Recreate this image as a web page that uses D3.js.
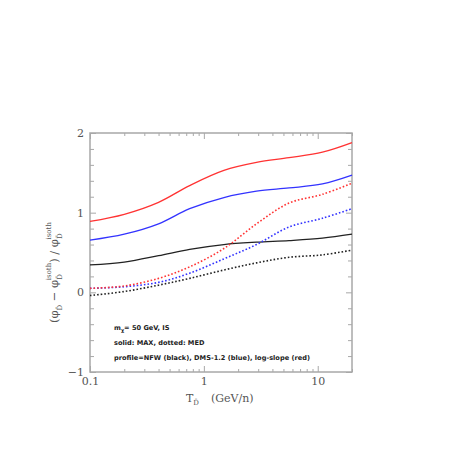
<!DOCTYPE html>
<html>
<head>
<meta charset="utf-8">
<script src="https://cdn.jsdelivr.net/npm/d3@7"></script>
<style>
  body { margin: 0; background: #fff; }
  svg { display: block; }
</style>
</head>
<body>
<script>
// kinetic energy grid (GeV/n)
var energies = [0.1, 0.2, 0.4, 0.75, 1.5, 2.9, 5.6, 11, 20];

// MAX propagation (solid)
var nfwMax = [0.345, 0.38, 0.46, 0.54, 0.60, 0.63, 0.65, 0.68, 0.73];
var dmsMax = [0.655, 0.73, 0.86, 1.05, 1.19, 1.27, 1.31, 1.36, 1.47];
var logMax = [0.89, 0.98, 1.13, 1.34, 1.53, 1.63, 1.69, 1.76, 1.88];

// MED propagation (dotted)
var nfwMed = [-0.04, 0.01, 0.09, 0.175, 0.28, 0.37, 0.44, 0.47, 0.53];
var dmsMed = [0.05, 0.07, 0.125, 0.24, 0.42, 0.60, 0.82, 0.93, 1.05];
var logMed = [0.05, 0.08, 0.175, 0.32, 0.55, 0.86, 1.12, 1.23, 1.37];

var xMajor = [0.1, 1, 10];
var xMajorLabels = ["0.1", "1", "10"];
var yMajor = [-1, 0, 1, 2];
var yMajorLabels = ["\u22121", "0", "1", "2"];

var legendLines = [
  ["m", "\u03c7", "= 50 GeV, IS"],
  ["solid: MAX, dotted: MED"],
  ["profile=NFW (black), DMS-1.2 (blue), log-slope (red)"]
];

var W = 457, H = 457;
var margin = {top: 133, right: 105, bottom: 85, left: 90};

var x = d3.scaleLog().domain([0.1, 20]).range([margin.left, W - margin.right]);
var y = d3.scaleLinear().domain([-1, 2]).range([H - margin.bottom, margin.top]);

var svg = d3.select("body").append("svg")
    .attr("width", W)
    .attr("height", H);

var frameCol = "#a8a8a8",
    textCol = "#555";

var xMinor = x.ticks().filter(function(d) { return xMajor.indexOf(d) < 0; });
var yMinor = d3.range(-1, 2.001, 0.2).map(function(d) { return Math.round(d * 10) / 10; })
    .filter(function(d) { return yMajor.indexOf(d) < 0; });

function styleAxis(g) {
  g.select(".domain").remove();
  g.selectAll(".tick line").attr("stroke", frameCol).attr("stroke-width", 1);
  g.selectAll(".tick text")
    .attr("fill", textCol)
    .style("font-family", "'DejaVu Serif', serif")
    .style("font-size", "11px");
}

var y0 = y.range()[0], y1 = y.range()[1];
var x0 = x.range()[0], x1 = x.range()[1];

// bottom
svg.append("g").attr("transform", "translate(0," + y0 + ")")
  .call(d3.axisBottom(x).tickValues(xMajor).tickSize(-6).tickPadding(5)
    .tickFormat(function(d, i) { return xMajorLabels[i]; }))
  .call(styleAxis);
svg.append("g").attr("transform", "translate(0," + y0 + ")")
  .call(d3.axisBottom(x).tickValues(xMinor).tickSize(-3).tickFormat(""))
  .call(styleAxis);
// top
svg.append("g").attr("transform", "translate(0," + y1 + ")")
  .call(d3.axisTop(x).tickValues(xMajor).tickSize(-6).tickFormat(""))
  .call(styleAxis);
svg.append("g").attr("transform", "translate(0," + y1 + ")")
  .call(d3.axisTop(x).tickValues(xMinor).tickSize(-3).tickFormat(""))
  .call(styleAxis);
// left
svg.append("g").attr("transform", "translate(" + x0 + ",0)")
  .call(d3.axisLeft(y).tickValues(yMajor).tickSize(-6).tickPadding(6)
    .tickFormat(function(d, i) { return yMajorLabels[i]; }))
  .call(styleAxis);
svg.append("g").attr("transform", "translate(" + x0 + ",0)")
  .call(d3.axisLeft(y).tickValues(yMinor).tickSize(-4).tickFormat(""))
  .call(styleAxis);
// right
svg.append("g").attr("transform", "translate(" + x1 + ",0)")
  .call(d3.axisRight(y).tickValues(yMajor).tickSize(-6).tickFormat(""))
  .call(styleAxis);
svg.append("g").attr("transform", "translate(" + x1 + ",0)")
  .call(d3.axisRight(y).tickValues(yMinor).tickSize(-4).tickFormat(""))
  .call(styleAxis);

// frame
svg.append("rect")
  .attr("x", x0).attr("y", y1)
  .attr("width", x1 - x0).attr("height", y0 - y1)
  .attr("fill", "none")
  .attr("stroke", frameCol)
  .attr("stroke-width", 1.5);

// curves
var line = d3.line()
  .x(function(d) { return x(d[0]); })
  .y(function(d) { return y(d[1]); })
  .curve(d3.curveCatmullRom.alpha(0.5));

var series = [
  {v: nfwMax, c: "#222", dash: null},
  {v: dmsMax, c: "#3333ff", dash: null},
  {v: logMax, c: "#ff3333", dash: null},
  {v: nfwMed, c: "#222", dash: "1.6,2"},
  {v: dmsMed, c: "#3333ff", dash: "1.6,2"},
  {v: logMed, c: "#ff3333", dash: "1.6,2"}
];

svg.append("g").selectAll("path")
  .data(series)
  .join("path")
    .attr("d", function(s) { return line(energies.map(function(e, i) { return [e, s.v[i]]; })); })
    .attr("fill", "none")
    .attr("stroke", function(s) { return s.c; })
    .attr("stroke-width", function(s) { return s.dash ? 1.6 : 1.3; })
    .attr("stroke-dasharray", function(s) { return s.dash; });

// legend text
var leg = svg.append("g")
  .style("font-family", "'DejaVu Sans', sans-serif")
  .style("font-weight", "bold")
  .style("font-size", "6.6px")
  .attr("fill", "#222");

var t0 = leg.append("text").attr("x", 114).attr("y", 330);
t0.append("tspan").text(legendLines[0][0]);
t0.append("tspan").attr("dy", 2).style("font-size", "5px").text(legendLines[0][1]);
t0.append("tspan").attr("dy", -2).text(legendLines[0][2]);
leg.append("text").attr("x", 114).attr("y", 345).text(legendLines[1][0]);
leg.append("text").attr("x", 114).attr("y", 360)
  .attr("textLength", 196).attr("lengthAdjust", "spacing")
  .text(legendLines[2][0]);

// x title
var xt = svg.append("text")
  .attr("x", 186).attr("y", 402)
  .attr("fill", textCol)
  .style("font-family", "'DejaVu Serif', serif")
  .style("font-size", "11px");
xt.append("tspan").text("T");
xt.append("tspan").attr("dy", 3).style("font-size", "7px").text("D\u0304");
xt.append("tspan").attr("dy", -3).attr("dx", 12).text("(GeV/n)");

// y title
var yt = svg.append("text")
  .attr("transform", "translate(58,323) rotate(-90)")
  .attr("fill", textCol)
  .style("font-family", "'DejaVu Serif', serif")
  .style("font-size", "11.5px");
yt.append("tspan").text("(\u03c6");
yt.append("tspan").attr("dy", 4).style("font-size", "7px").text("D\u0304");
yt.append("tspan").attr("dy", -4).text("  \u2212  \u03c6");
yt.append("tspan").attr("dy", 4).style("font-size", "7px").text("D\u0304");
yt.append("tspan").attr("dy", -11).attr("dx", -6).style("font-size", "7px").text("isoth");
yt.append("tspan").attr("dy", 7).text(")  /  \u03c6");
yt.append("tspan").attr("dy", 4).style("font-size", "7px").text("D\u0304");
yt.append("tspan").attr("dy", -11).attr("dx", -6).style("font-size", "7px").text("isoth");
</script>
</body>
</html>
